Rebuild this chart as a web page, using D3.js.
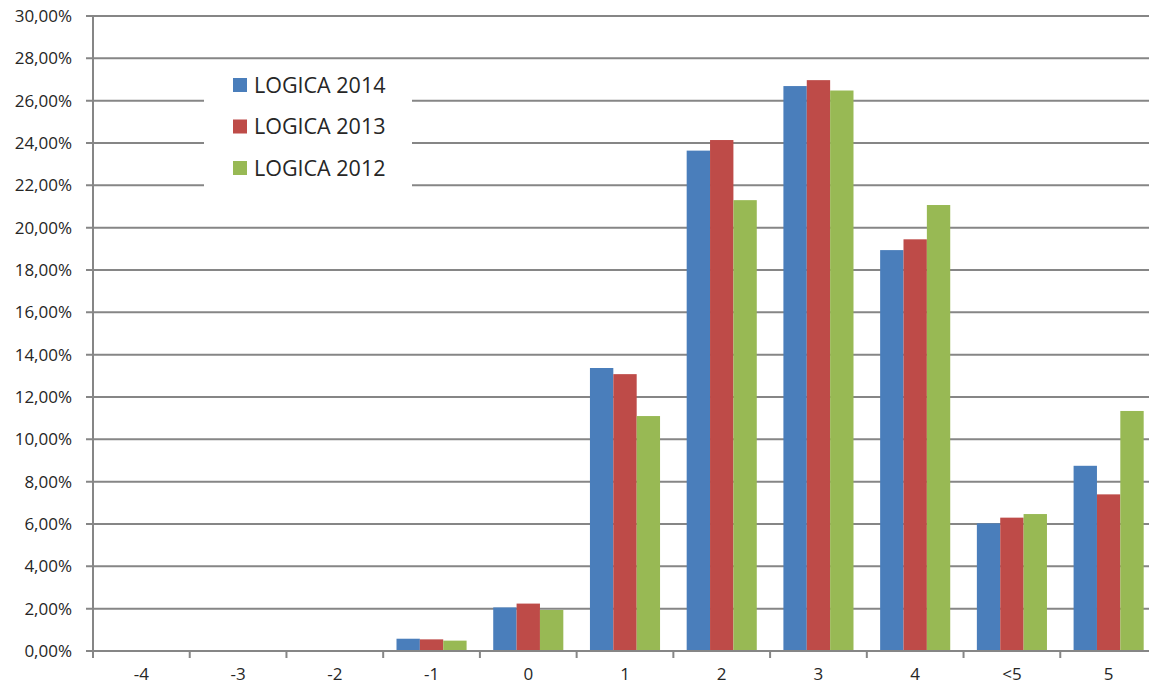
<!DOCTYPE html>
<html>
<head>
<meta charset="utf-8">
<title>LOGICA</title>
<script src="https://d3js.org/d3.v7.min.js"></script>
<style>
  body { margin: 0; background: #fff; }
  text { font-family: "Open Sans", "DejaVu Sans", sans-serif; fill: #262626; }
</style>
</head>
<body>
<script>

// categories and series (values in %)
var categories = ["-4", "-3", "-2", "-1", "0", "1", "2", "3", "4", "<5", "5"];
var series_names = ["LOGICA 2014", "LOGICA 2013", "LOGICA 2012"];
var logica_2014 = [0, 0, 0, 0.58, 2.06, 13.37, 23.64, 26.69, 18.94, 6.03, 8.75];
var logica_2013 = [0, 0, 0, 0.55, 2.24, 13.08, 24.14, 26.97, 19.45, 6.30, 7.40];
var logica_2012 = [0, 0, 0, 0.49, 1.94, 11.10, 21.30, 26.48, 21.07, 6.47, 11.34];
var y_ticks = [0, 2, 4, 6, 8, 10, 12, 14, 16, 18, 20, 22, 24, 26, 28, 30];
var colors = ["#4a7ebb", "#be4b48", "#98b954"];

var width = 1149, height = 689;
var margin = {left: 93, top: 16, right: -8, bottom: 38};

var svg = d3.select("body").append("svg")
    .attr("width", width)
    .attr("height", height);

var x = d3.scaleBand()
    .domain(categories)
    .range([margin.left, width - margin.right])
    .padding(0);

var x1 = d3.scaleBand()
    .domain(series_names)
    .range([0, x.bandwidth()])
    .paddingOuter(0.57)
    .paddingInner(0);

var y = d3.scaleLinear()
    .domain([0, 30])
    .range([height - margin.bottom, margin.top]);

// grid lines
svg.append("g")
    .selectAll("line")
    .data(y_ticks)
    .enter()
    .append("line")
    .attr("x1", margin.left - 7)
    .attr("x2", width)
    .attr("y1", function (d) { return y(d); })
    .attr("y2", function (d) { return y(d); })
    .attr("stroke", "#868686")
    .attr("stroke-width", 2);

// y labels
svg.append("g")
    .selectAll("text")
    .data(y_ticks)
    .enter()
    .append("text")
    .attr("x", 72)
    .attr("y", function (d) { return y(d); })
    .attr("dy", "0.35em")
    .attr("text-anchor", "end")
    .style("font-size", "17px")
    .text(function (d) { return d.toFixed(2).replace(".", ",") + "%"; });

// legend box (hides the grid behind it)
var legend = svg.append("g");
legend.append("rect")
    .attr("x", 204)
    .attr("y", 64)
    .attr("width", 208)
    .attr("height", 128)
    .attr("fill", "#fff");

// bars
var all_series = [logica_2014, logica_2013, logica_2012];
var bar_data = [];
for (var s = 0; s < all_series.length; s = s + 1) {
    for (var i = 0; i < categories.length; i = i + 1) {
        bar_data.push({cat: categories[i], name: series_names[s], s: s, v: all_series[s][i]});
    }
}

svg.append("g")
    .selectAll("rect")
    .data(bar_data.filter(function (d) { return d.v > 0; }))
    .enter()
    .append("rect")
    .attr("x", function (d) { return x(d.cat) + x1(d.name); })
    .attr("width", x1.bandwidth())
    .attr("y", function (d) { return y(d.v); })
    .attr("height", function (d) { return y(0) - y(d.v); })
    .attr("fill", function (d) { return colors[d.s]; });

// x axis
var x_axis = svg.append("g")
    .attr("transform", "translate(0," + y(0) + ")")
    .call(d3.axisBottom(x).tickSize(0).tickPadding(17));
x_axis.select(".domain").remove();
x_axis.selectAll("text")
    .style("font-size", "17px")
    .attr("fill", "#262626");

svg.append("line")
    .attr("x1", margin.left - 7)
    .attr("x2", width)
    .attr("y1", y(0))
    .attr("y2", y(0))
    .attr("stroke", "#868686")
    .attr("stroke-width", 2);

var bounds = categories.map(function (c) { return x(c); });
bounds.push(x(categories[categories.length - 1]) + x.bandwidth());
svg.append("g")
    .selectAll("line")
    .data(bounds)
    .enter()
    .append("line")
    .attr("x1", function (d) { return d; })
    .attr("x2", function (d) { return d; })
    .attr("y1", y(0))
    .attr("y2", y(0) + 7)
    .attr("stroke", "#868686")
    .attr("stroke-width", 2);

// y axis line
svg.append("line")
    .attr("x1", margin.left)
    .attr("x2", margin.left)
    .attr("y1", y(30))
    .attr("y2", y(0) + 7)
    .attr("stroke", "#868686")
    .attr("stroke-width", 2);

// legend entries
var entries = legend.selectAll("g.entry")
    .data(series_names)
    .enter()
    .append("g")
    .attr("class", "entry")
    .attr("transform", function (d, i) { return "translate(233," + (85 + i * 41.5) + ")"; });

entries.append("rect")
    .attr("x", 0)
    .attr("y", -7)
    .attr("width", 14)
    .attr("height", 14)
    .attr("fill", function (d, i) { return colors[i]; });

entries.append("text")
    .attr("x", 21)
    .attr("y", 0)
    .attr("dy", "0.36em")
    .style("font-size", "21.5px")
    .text(function (d) { return d; });

</script>
</body>
</html>
